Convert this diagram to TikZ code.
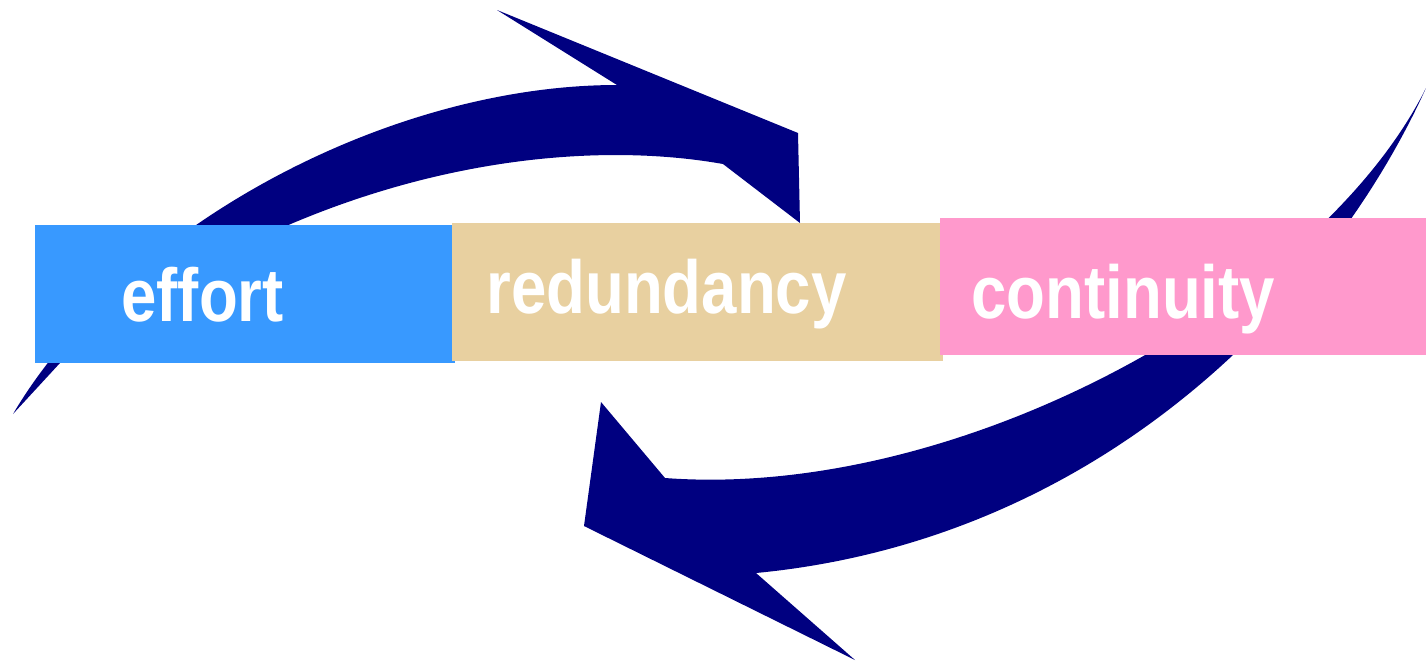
\documentclass[tikz,border=0pt]{standalone}
\usepackage{fontspec}
\setmainfont{Liberation Sans}
\usepackage{tikz}
\usetikzlibrary{positioning}

\definecolor{arrownavy}{RGB}{0,0,128}
\definecolor{effortblue}{RGB}{56,153,255}
\definecolor{redundtan}{RGB}{232,208,160}
\definecolor{contpink}{RGB}{255,153,204}

\tikzset{
  cyclearrow/.style={fill=arrownavy, draw=none},
  stagebox/.style={rectangle, draw=none, inner sep=0pt, anchor=north west, minimum height=27.6mm},
  stagelbl/.style={anchor=base west, inner sep=0pt, text=white, font=\bfseries\fontsize{42.7}{50}\selectfont}
}

\begin{document}
\begin{tikzpicture}[x=0.2mm, y=-0.2mm]
\useasboundingbox (0,0) rectangle (1426,660);
\fill[cyclearrow] (13,414) .. controls (125,225) and (390,85) .. (617,85) -- (497,10) -- (798,133) -- (800,223) -- (723,164) .. controls (560,135) and (300,170) .. (60,363) -- cycle;
\fill[cyclearrow] (1426,88) .. controls (1330,300) and (1100,540) .. (756,573) -- (855,660) -- (584,526) -- (601,402) -- (665,478) .. controls (960,500) and (1320,300) .. (1426,88) -- cycle;
\node[stagebox, fill=effortblue, minimum width=84mm] (effortbox) at (35,225) {};
\node[stagebox, fill=redundtan, minimum width=98.2mm] (redundbox) at (452,223) {};
\node[stagebox, fill=contpink, minimum width=97.2mm, minimum height=27.4mm] (contbox) at (940,218) {};
\node[stagelbl] (effortlbl) at (121,321) {\scalebox{0.847}[1]{effort}};
\node[stagelbl] (redundlbl) at (486,313) {\scalebox{0.847}[1]{redundancy}};
\node[stagelbl] (contlbl) at (971,318) {\scalebox{0.847}[1]{continuity}};
\end{tikzpicture}
\end{document}
